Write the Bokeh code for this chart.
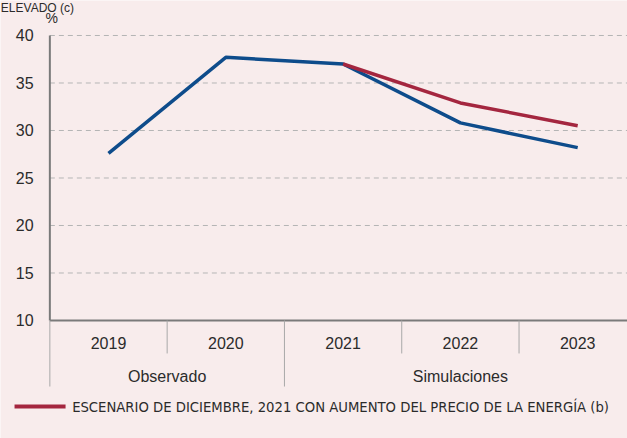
from bokeh.plotting import figure
from bokeh.models import Range1d
from bokeh.core.properties import value
from bokeh.embed import file_html
from bokeh.resources import INLINE

# ---- data ----
years = ["2019", "2020", "2021", "2022", "2023"]
groups = ["Observado", "Simulaciones"]
group_sizes = [2, 3]
base_values = [27.6, 37.7, 37.0, 30.8, 28.2]          # blue series
energy_years = ["2021", "2022", "2023"]
energy_values = [37.0, 32.9, 30.5]                   # red series
y_ticks = [10, 15, 20, 25, 30, 35, 40]
title_text = "ELEVADO (c)"
unit_text = "%"
legend_text = "ESCENARIO DE DICIEMBRE, 2021 CON AUMENTO DEL PRECIO DE LA ENERGÍA (b)"

BG = "#F8ECEC"
BLUE = "#0E4C8B"
RED = "#A4263F"
AX = "#7A7A7A"
SEP = "#A8A8A8"
GRID = "#B5B5B5"
TXT = "#2B2B2B"
FONT = value("Liberation Sans")

W, H = 627, 438
x_start, x_end = -0.9207, 4.4246
y_start, y_end = -2.421, 43.684

p = figure(width=W, height=H, output_backend="svg", toolbar_location=None,
           x_range=Range1d(x_start, x_end), y_range=Range1d(y_start, y_end),
           min_border=0, background_fill_color=BG, border_fill_color=BG)
p.axis.visible = False
p.grid.visible = False
p.outline_line_color = None

xi = {y: i for i, y in enumerate(years)}
n = len(years)
left = -0.5
ymin, ymax = min(y_ticks), max(y_ticks)

# gridlines
grid_y = [t for t in y_ticks if t != ymin]
p.segment(x0=[left] * len(grid_y), x1=[x_end] * len(grid_y), y0=grid_y, y1=grid_y,
          line_color=GRID, line_width=1, line_dash="5 4")

# axes lines
p.segment(x0=[left], x1=[x_end], y0=[ymin], y1=[ymin], line_color=AX, line_width=2)
p.segment(x0=[left], x1=[left], y0=[ymin], y1=[ymax], line_color=AX, line_width=2)

# category separators
year_sep_bottom = 6.53
group_sep_bottom = 3.05
group_bounds = []
acc = 0
for s in group_sizes[:-1]:
    acc += s
    group_bounds.append(acc - 0.5)
short = [i + 0.5 for i in range(n - 1) if (i + 0.5) not in group_bounds]
p.segment(x0=short, x1=short, y0=[ymin] * len(short), y1=[year_sep_bottom] * len(short),
          line_color=SEP, line_width=1)
longs = [left] + group_bounds
p.segment(x0=longs, x1=longs, y0=[ymin] * len(longs), y1=[group_sep_bottom] * len(longs),
          line_color=SEP, line_width=1)

# year labels
p.text(x=list(range(n)), y=[7.68] * n, text=years, text_font=FONT, text_font_size="16px",
       text_color=TXT, text_align="center", text_baseline="middle")

# group labels
gx = []
acc = 0
for s in group_sizes:
    gx.append(acc + (s - 1) / 2)
    acc += s
p.text(x=gx, y=[4.1] * len(gx), text=groups, text_font=FONT, text_font_size="16px",
       text_color=TXT, text_align="center", text_baseline="middle")

# y tick labels
p.text(x=[-0.639] * len(y_ticks), y=y_ticks, text=[str(t) for t in y_ticks], text_font=FONT,
       text_font_size="16px", text_color=TXT, text_align="right", text_baseline="middle")

# unit and title
p.text(x=[-0.537], y=[41.85], text=[unit_text], text_font=FONT, text_font_size="14px",
       text_color=TXT, text_align="left", text_baseline="middle")
p.text(x=[x_start + 0.003], y=[y_end - 0.05], text=[title_text], text_font=FONT,
       text_font_size="12px", text_color=TXT, text_align="left", text_baseline="top")

# series
p.line(x=[xi[y] for y in years], y=base_values, line_color=BLUE, line_width=3.5)
p.line(x=[xi[y] for y in energy_years], y=energy_values, line_color=RED, line_width=3.5)

# legend
p.segment(x0=[-0.801], x1=[-0.366], y0=[0.947], y1=[0.947], line_color=RED, line_width=4)
p.text(x=[-0.31], y=[0.947], text=[legend_text], text_font=value("DejaVu Sans Condensed"),
       text_font_size="14.7px", text_color=TXT, text_align="left", text_baseline="middle")

open("out.html", "w").write(file_html(p, INLINE))
